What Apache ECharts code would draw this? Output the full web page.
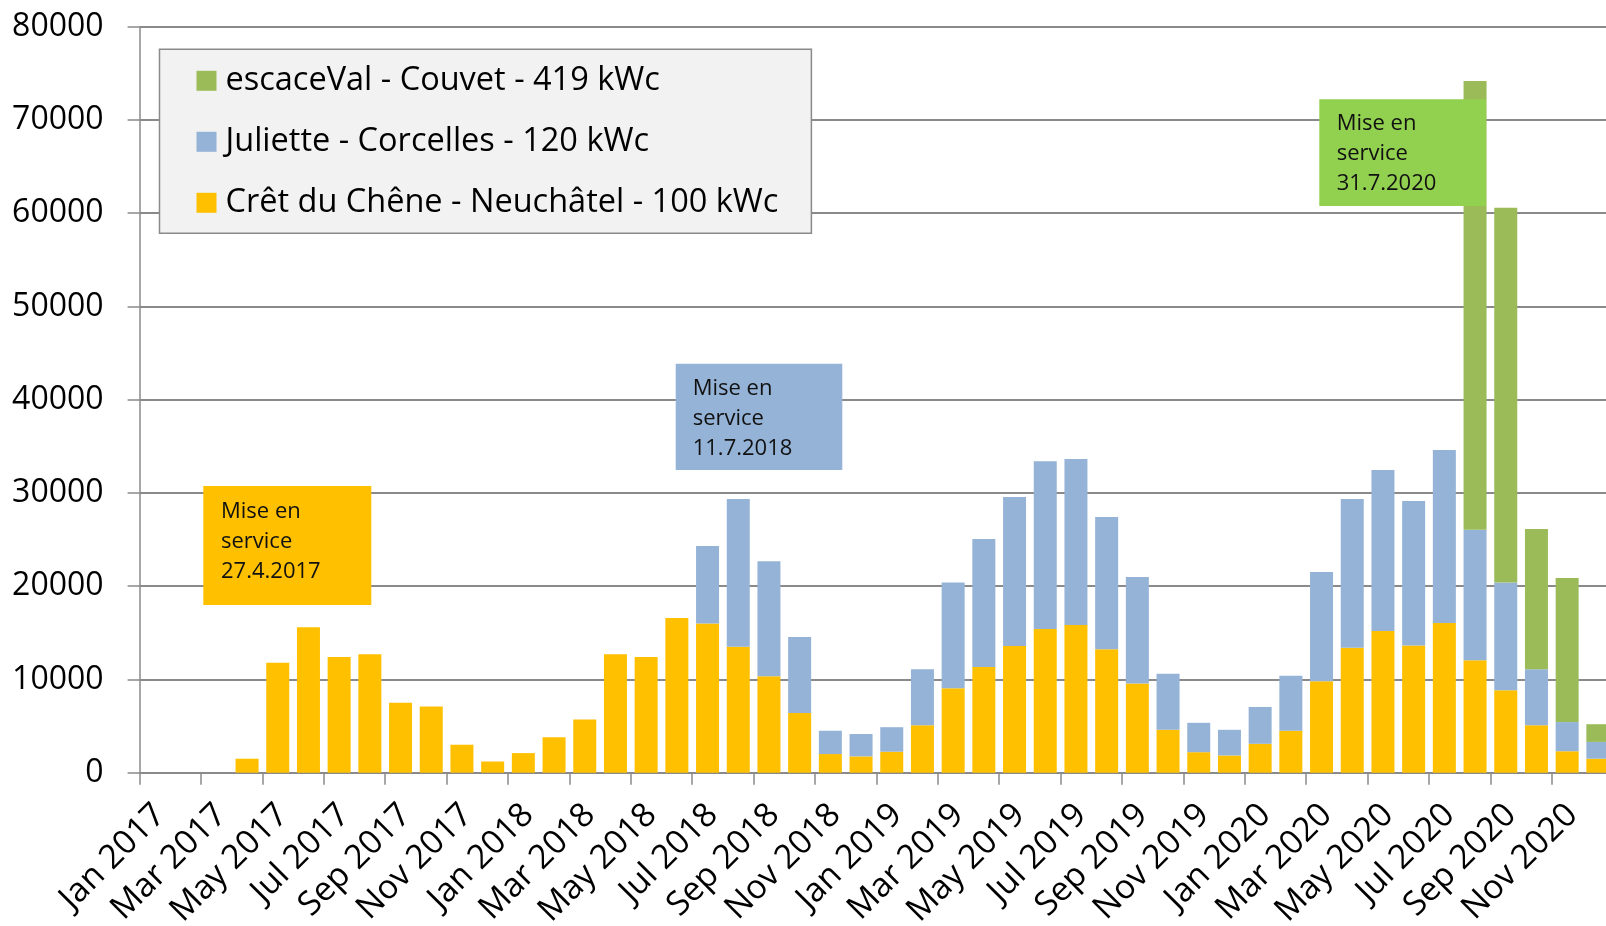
<!DOCTYPE html>
<html>
<head>
<meta charset="utf-8">
<title>Production mensuelle</title>
<script src="https://cdn.jsdelivr.net/npm/echarts@6/dist/echarts.min.js"></script>
<style>
  html, body { margin: 0; padding: 0; background: #fff; }
  #main { width: 1606px; height: 926px; }
</style>
</head>
<body>
<div id="main"></div>
<script>
// mois Jan 2017 .. Dec 2020
var monthNames = ['Jan','Feb','Mar','Apr','May','Jun','Jul','Aug','Sep','Oct','Nov','Dec'];
var years = [2017, 2018, 2019, 2020];
var categories = [];
years.forEach(function (y) {
    monthNames.forEach(function (m) { categories.push(m + ' ' + y); });
});

var seriesNames = [
    'escaceVal - Couvet - 419 kWc',
    'Juliette - Corcelles - 120 kWc',
    'Crêt du Chêne - Neuchâtel - 100 kWc'
];

// Crêt du Chêne - Neuchâtel (mise en service 27.4.2017)
var cretDuChene = [
    null, null, null, 1500, 11800, 15600, 12400, 12700, 7500, 7100, 3000, 1200,
    2100, 3800, 5700, 12700, 12400, 16600, 16000, 13500, 10350, 6400, 2000, 1750,
    2250, 5100, 9050, 11330, 13600, 15400, 15850, 13230, 9560, 4600, 2200, 1850,
    3100, 4500, 9800, 13400, 15200, 13650, 16050, 12050, 8850, 5100, 2300, 1500
];

// Juliette - Corcelles (mise en service 11.7.2018)
var juliette = [
    null, null, null, null, null, null, null, null, null, null, null, null,
    null, null, null, null, null, null, 8300, 15850, 12320, 8160, 2500, 2400,
    2630, 5990, 11350, 13740, 15970, 17990, 17790, 14200, 11440, 6000, 3150, 2750,
    3950, 5900, 11720, 15960, 17260, 15490, 18560, 14010, 11550, 6000, 3130, 1800
];

// escaceVal - Couvet (mise en service 31.7.2020)
var escaceVal = [
    null, null, null, null, null, null, null, null, null, null, null, null,
    null, null, null, null, null, null, null, null, null, null, null, null,
    null, null, null, null, null, null, null, null, null, null, null, null,
    null, null, null, null, null, null, null, 48130, 40180, 15040, 15460, 1900
];

var yTicks = { min: 0, max: 80000, interval: 10000 };

var notes = [
    { text: 'Mise en\nservice\n27.4.2017', color: '#FFC000' },
    { text: 'Mise en\nservice\n11.7.2018', color: '#95B3D7' },
    { text: 'Mise en\nservice\n31.7.2020', color: '#92D050' }
];

var FONT = '"Open Sans", "Noto Sans", sans-serif';
var gridLine = '#8a8a8a';

function note(n, x, y, w, h, tx, ty) {
    return {
        type: 'group',
        z: 100,
        children: [
            { type: 'rect', shape: { x: x, y: y, width: w, height: h }, style: { fill: n.color }, z: 100 },
            { type: 'text', x: tx, y: ty, z: 101,
              style: { text: n.text, font: '22px ' + FONT, lineHeight: 30, fill: '#111', verticalAlign: 'top' } }
        ]
    };
}

var chart = echarts.init(document.getElementById('main'));

var option = {
    animation: false,
    backgroundColor: '#fff',
    grid: [
        { left: 139.6, top: 26.7, width: 1473.6, height: 746, outerBoundsMode: 'none', containLabel: false },
        // grille des étiquettes (décalées comme dans Excel)
        { left: 160, top: 26.7, width: 1442.9, height: 746, outerBoundsMode: 'none', containLabel: false }
    ],
    legend: {
        data: seriesNames,
        orient: 'vertical',
        left: 159.5,
        top: 49.3,
        itemWidth: 20,
        itemHeight: 20,
        itemGap: 28,
        icon: 'rect',
        padding: [15, 33, 14, 37],
        backgroundColor: '#F2F2F2',
        borderColor: gridLine,
        borderWidth: 1.5,
        textStyle: { fontFamily: FONT, fontSize: 32.5, color: '#000', lineHeight: 32, padding: [0, 0, 0, 4] }
    },
    xAxis: [
        {
            type: 'category',
            gridIndex: 0,
            data: categories,
            axisLine: { lineStyle: { color: gridLine, width: 1.5 } },
            axisTick: { show: true, interval: 1, length: 12, lineStyle: { color: gridLine, width: 1.5 } },
            axisLabel: { show: false }
        },
        {
            type: 'category',
            gridIndex: 1,
            boundaryGap: false,
            data: categories,
            axisLine: { show: false },
            axisTick: { show: false },
            axisLabel: {
                interval: 1,
                rotate: 45,
                margin: 37,
                fontFamily: FONT,
                fontSize: 33.5,
                color: '#000'
            }
        }
    ],
    yAxis: [
        {
            type: 'value',
            gridIndex: 0,
            min: yTicks.min,
            max: yTicks.max,
            interval: yTicks.interval,
            axisLine: { show: true, lineStyle: { color: gridLine, width: 1.5 } },
            axisTick: { show: true, length: 12, lineStyle: { color: gridLine, width: 1.5 } },
            splitLine: { lineStyle: { color: gridLine, width: 2 } },
            axisLabel: {
                margin: 36, fontFamily: FONT, fontSize: 32, color: '#000',
                formatter: function (v) { return String(v); }
            }
        },
        { type: 'value', gridIndex: 1, show: false, min: 0, max: 1 }
    ],
    series: [
        {
            name: seriesNames[2], type: 'bar', stack: 'prod', barWidth: 23,
            itemStyle: { color: '#FFC000' }, data: cretDuChene
        },
        {
            name: seriesNames[1], type: 'bar', stack: 'prod', barWidth: 23,
            itemStyle: { color: '#95B3D7' }, data: juliette
        },
        {
            name: seriesNames[0], type: 'bar', stack: 'prod', barWidth: 23,
            itemStyle: { color: '#9BBB59' }, data: escaceVal
        }
    ],
    graphic: [
        note(notes[0], 203.3, 486, 168, 119, 221, 496.7),
        note(notes[1], 675.7, 363.7, 166.6, 106.3, 692.7, 373.3),
        note(notes[2], 1319.3, 99.3, 166.7, 106.7, 1336.7, 108.3)
    ]
};

chart.setOption(option);
</script>
</body>
</html>
